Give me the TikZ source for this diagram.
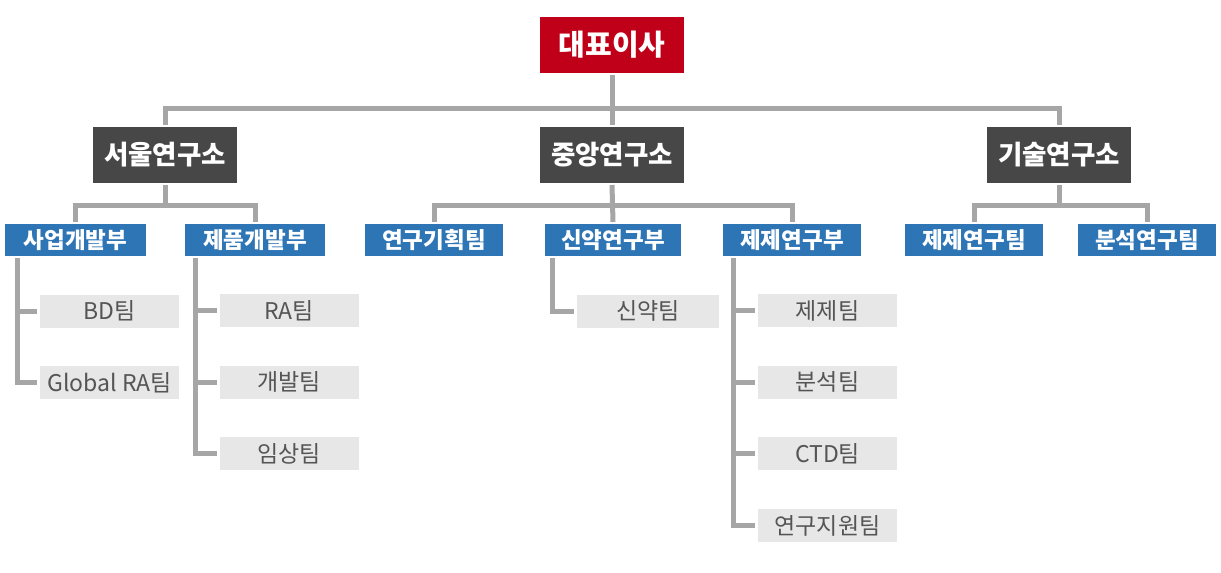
\documentclass[tikz,border=0pt]{standalone}
\usepackage{fontspec}
\setmainfont{Noto Sans CJK KR}
\definecolor{ceored}{HTML}{C00018}
\definecolor{labgray}{HTML}{474747}
\definecolor{deptblue}{HTML}{2E75B6}
\definecolor{teamfill}{HTML}{E7E7E7}
\definecolor{teamtext}{HTML}{555555}
\definecolor{linkgray}{HTML}{A6A6A6}
\begin{document}
\begin{tikzpicture}[x=1pt,y=-1pt]

    \tikzset{
      ceobox/.style={
        fill=ceored,
        text=white,
        font=\fontsize{29}{32}\selectfont\bfseries,
        minimum width=144pt,
        minimum height=56pt,
        inner sep=0pt,
        outer sep=2pt,
      },
      labbox/.style={
        fill=labgray,
        text=white,
        font=\fontsize{26.5}{29}\selectfont\bfseries,
        minimum width=144pt,
        minimum height=56pt,
        inner sep=0pt,
        outer sep=2pt,
      },
      deptbox/.style={
        fill=deptblue,
        text=white,
        font=\fontsize{22.5}{25}\selectfont\bfseries,
        minimum width=139pt,
        minimum height=32pt,
        inner sep=0pt,
        outer sep=2pt,
      },
      teambox/.style={
        fill=teamfill,
        text=teamtext,
        font=\fontsize{23}{25}\selectfont,
        minimum width=139pt,
        minimum height=33pt,
        inner sep=0pt,
        outer sep=3pt,
      },
      link/.style={
        draw=linkgray,
        line width=5pt,
      },
    }
    \useasboundingbox (0,0) rectangle (1221,573);

	\node[ceobox] (ceo) at (612,45) {대표이사};
	\node[labbox] (seoul) at (165,155) {서울연구소};
	\node[labbox] (central) at (612,155) {중앙연구소};
	\node[labbox] (tech) at (1059,155) {기술연구소};
	\node[deptbox,minimum width=141pt] (bizdev) at (75.5,240) {사업개발부};
	\node[deptbox,minimum width=140pt] (proddev) at (255,240) {제품개발부};
	\node[deptbox,minimum width=138pt] (planning) at (434,240) {연구기획팀};
	\node[deptbox,minimum width=136pt] (newdrug) at (613,240) {신약연구부};
	\node[deptbox,minimum width=138pt] (formdept) at (792,240) {제제연구부};
	\node[deptbox,minimum width=138pt] (formteam) at (974,240) {제제연구팀};
	\node[deptbox,minimum width=138pt] (anateam) at (1147,240) {분석연구팀};
	\node[teambox] (bd) at (109.5,311) {BD팀};
	\node[teambox] (globalra) at (109.5,382.5) {Global RA팀};
	\node[teambox] (ra) at (289,310.5) {RA팀};
	\node[teambox] (devteam) at (289,382) {개발팀};
	\node[teambox] (clinical) at (289,453.5) {임상팀};
	\node[teambox,minimum width=142pt] (drugteam) at (648,311) {신약팀};
	\node[teambox] (form) at (827.5,310.5) {제제팀};
	\node[teambox] (analysis) at (827.5,382) {분석팀};
	\node[teambox] (ctd) at (827.5,453.5) {CTD팀};
	\node[teambox] (support) at (827.5,525.5) {연구지원팀};

	\coordinate (topbus) at (612,108);
	\draw[link] (ceo.south) -- (central.north);
	\draw[link] (seoul.north) |- (topbus) -| (tech.north);

	\coordinate (seoulbus) at (165,205);
	\draw[link] (seoul.south) -- (seoulbus);
	\draw[link] (bizdev.north) |- (seoulbus) -| (proddev.north);

	\coordinate (centralbus) at (612,205);
	\draw[link] (central.south) -- (newdrug.north);
	\draw[link] (planning.north) |- (centralbus) -| (formdept.north);

	\coordinate (techbus) at (1059,205);
	\draw[link] (tech.south) -- (techbus);
	\draw[link] (formteam.north) |- (techbus) -| (anateam.north);

	\draw[link] ([xshift=14pt]bizdev.south west) |- (bd.west);
	\draw[link] ([xshift=14pt]bizdev.south west) |- (globalra.west);
	\draw[link] ([xshift=12pt]proddev.south west) |- (ra.west);
	\draw[link] ([xshift=12pt]proddev.south west) |- (devteam.west);
	\draw[link] ([xshift=12pt]proddev.south west) |- (clinical.west);
	\draw[link] ([xshift=9pt]newdrug.south west) |- (drugteam.west);
	\draw[link] ([xshift=12pt]formdept.south west) |- (form.west);
	\draw[link] ([xshift=12pt]formdept.south west) |- (analysis.west);
	\draw[link] ([xshift=12pt]formdept.south west) |- (ctd.west);
	\draw[link] ([xshift=12pt]formdept.south west) |- (support.west);

\end{tikzpicture}
\end{document}
